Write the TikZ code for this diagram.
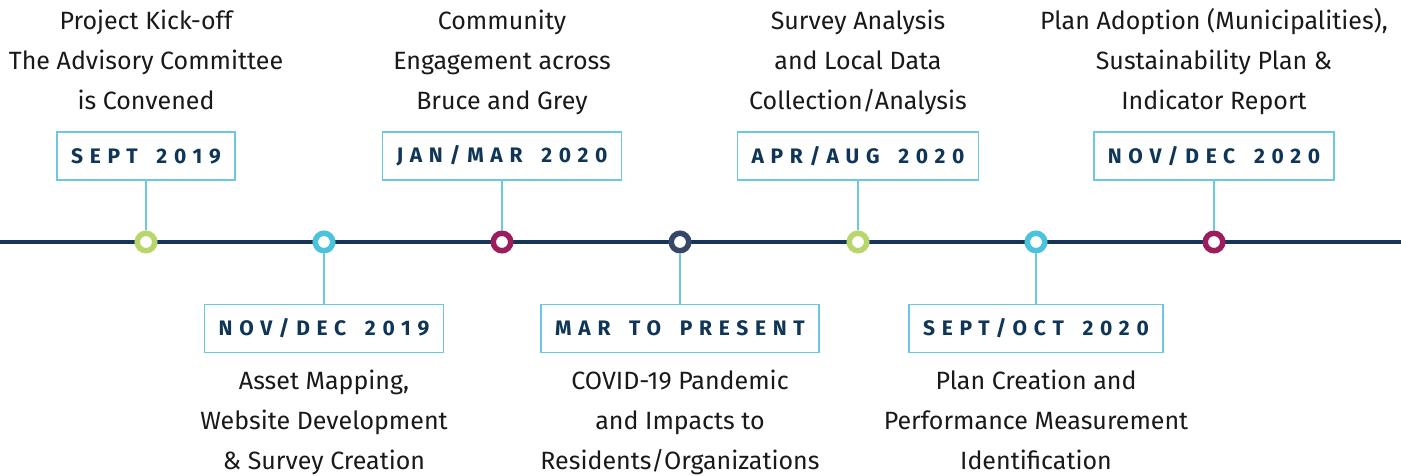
\documentclass[tikz,border=0pt]{standalone}
\usepackage{fontspec}
\setmainfont{Fira Sans}
\newfontfamily\datefont[LetterSpace=32,WordSpace=1.6]{Fira Sans}
\usetikzlibrary{positioning}
\definecolor{navy}{HTML}{163659}
\definecolor{labelblue}{HTML}{0F3557}
\definecolor{boxcyan}{HTML}{6CC8DF}
\definecolor{dotgreen}{HTML}{B8D66B}
\definecolor{dotcyan}{HTML}{4BC3DD}
\definecolor{dotmagenta}{HTML}{9C1D5B}
\definecolor{dotslate}{HTML}{384766}
\tikzset{
  datebox/.style={draw=boxcyan, line width=1.5pt, fill=white, minimum height=48pt,
    inner xsep=14pt, text=labelblue,
    font=\datefont\fontsize{21}{21}\selectfont\bfseries},
  event/.style={align=center, inner sep=0pt, text=black!90,
    font=\fontsize{25}{40}\selectfont},
  dot/.style={circle, draw=#1, line width=5.5pt, fill=white,
    minimum size=17.5pt, inner sep=0pt},
  stem/.style={draw=boxcyan, line width=1.5pt},
}
\begin{document}
\begin{tikzpicture}[x=1pt,y=1pt]
  \useasboundingbox (0,0) rectangle (1401,476);
  % timeline
  \coordinate (lstart) at (0,234);
  \coordinate (lend) at (1401,234);
  \draw[navy, line width=4pt] (lstart) -- (lend);

  \node[dot=dotgreen] (d1) at (146,234) {};
  \node[dot=dotcyan] (d2) at (324,234) {};
  \node[dot=dotmagenta] (d3) at (502,234) {};
  \node[dot=dotslate] (d4) at (680,234) {};
  \node[dot=dotgreen] (d5) at (858,234) {};
  \node[dot=dotcyan] (d6) at (1036,234) {};
  \node[dot=dotmagenta] (d7) at (1214,234) {};

  % date boxes
  \node[datebox] (b1) at (146,320) {SEPT 2019};
  \node[datebox] (b2) at (324,147.5) {NOV/DEC 2019};
  \node[datebox] (b3) at (502,320) {JAN/MAR 2020};
  \node[datebox] (b4) at (680,147.5) {MAR TO PRESENT};
  \node[datebox] (b5) at (858,320) {APR/AUG 2020};
  \node[datebox] (b6) at (1036,147.5) {SEPT/OCT 2020};
  \node[datebox] (b7) at (1214,320) {NOV/DEC 2020};

  \begin{scope}[stem]
    \draw (b1) -- (d1);
    \draw (b2) -- (d2);
    \draw (b3) -- (d3);
    \draw (b4) -- (d4);
    \draw (b5) -- (d5);
    \draw (b6) -- (d6);
    \draw (b7) -- (d7);
  \end{scope}

  % events
  \node[event, above=10pt of b1] (e1) {Project Kick-off\\The Advisory Committee\\is Convened\strut};
  \node[event, below=8pt of b2] (e2) {\strut Asset Mapping,\\Website Development\\\& Survey Creation};
  \node[event, above=10pt of b3] (e3) {Community\\Engagement across\\Bruce and Grey\strut};
  \node[event, below=8pt of b4] (e4) {\strut COVID-19 Pandemic\\and Impacts to\\Residents/Organizations};
  \node[event, above=10pt of b5] (e5) {Survey Analysis\\and Local Data\\Collection/Analysis\strut};
  \node[event, below=8pt of b6] (e6) {\strut Plan Creation and\\Performance Measurement\\Identification};
  \node[event, above=10pt of b7] (e7) {Plan Adoption (Municipalities),\\Sustainability Plan \&\\Indicator Report\strut};
\end{tikzpicture}
\end{document}
